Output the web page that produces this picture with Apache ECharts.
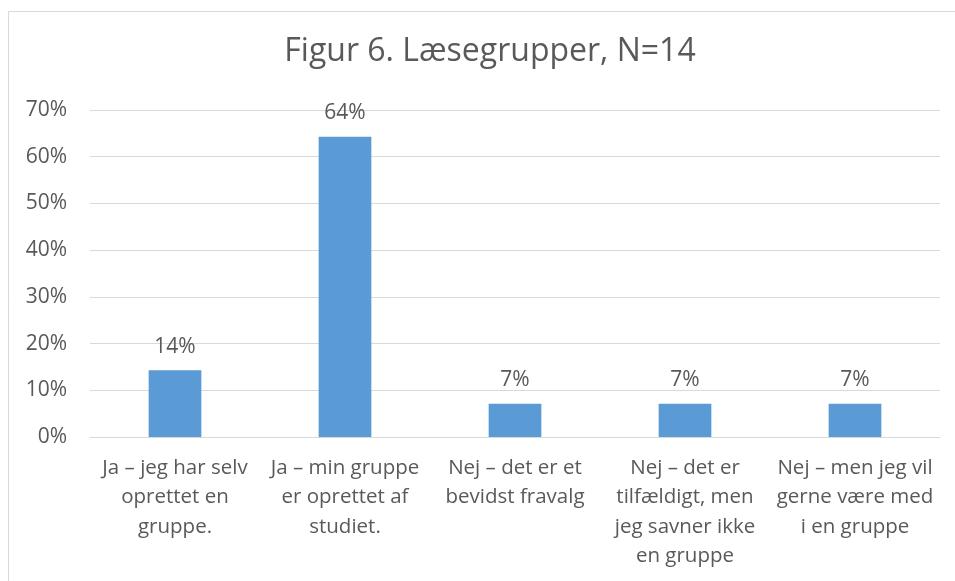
<!DOCTYPE html>
<html>
<head>
<meta charset="utf-8">
<script src="https://cdn.jsdelivr.net/npm/echarts@6/dist/echarts.min.js"></script>
<style>
  html, body { margin: 0; padding: 0; background: #fff; }
  #chart { width: 955px; height: 581px; }
</style>
</head>
<body>
<div id="chart"></div>
<script>
/* global echarts */

const TITLE = "Figur 6. Læsegrupper, N=14";
const categories = [
  "Ja – jeg har selv\noprettet en\ngruppe.",
  "Ja – min gruppe\ner oprettet af\nstudiet.",
  "Nej – det er et\nbevidst fravalg",
  "Nej – det er\ntilfældigt, men\njeg savner ikke\nen gruppe",
  "Nej – men jeg vil\ngerne være med\ni en gruppe",
];
const values = [14.29, 64.29, 7.14, 7.14, 7.14];
const yTicks = [0, 10, 20, 30, 40, 50, 60, 70];

const FONT = "Open Sans";
const TEXT = "#595959";
const LINE = "#d9d9d9";
const BAR = "#5b9bd5";

const chart = echarts.init(document.getElementById("chart"), null, { renderer: "canvas" });

const option = {
  animation: false,
  textStyle: { fontFamily: FONT },
  graphic: [
    {
      type: "rect",
      silent: true,
      shape: { x: 8.5, y: 11.5, width: 1000, height: 1000 },
      style: { fill: "none", stroke: LINE, lineWidth: 1 },
    },
  ],
  title: {
    text: TITLE,
    left: 485,
    textAlign: "center",
    top: 31,
    textStyle: { fontFamily: FONT, fontSize: 32, fontWeight: "normal", color: TEXT },
  },
  grid: { left: 90, right: 15, top: 110, bottom: 144, containLabel: false },
  xAxis: {
    type: "category",
    data: categories,
    axisLine: { lineStyle: { color: LINE } },
    axisTick: { show: false },
    axisLabel: {
      interval: 0,
      margin: 16,
      fontFamily: FONT,
      fontSize: 20.5,
      lineHeight: 29.5,
      color: TEXT,
      align: "center",
    },
  },
  yAxis: {
    type: "value",
    min: yTicks[0],
    max: yTicks[yTicks.length - 1],
    interval: 10,
    axisLine: { show: false },
    axisTick: { show: false },
    splitLine: { lineStyle: { color: LINE } },
    axisLabel: {
      margin: 23,
      fontFamily: FONT,
      fontSize: 21,
      color: TEXT,
      formatter: "{value}%",
    },
  },
  series: [
    {
      type: "bar",
      data: values,
      barWidth: "31%",
      itemStyle: { color: BAR },
      label: {
        show: true,
        position: "top",
        distance: 13,
        fontFamily: FONT,
        fontSize: 21,
        color: TEXT,
        formatter: (p) => Math.round(p.value) + "%",
      },
    },
  ],
};

chart.setOption(option);
</script>
</body>
</html>
